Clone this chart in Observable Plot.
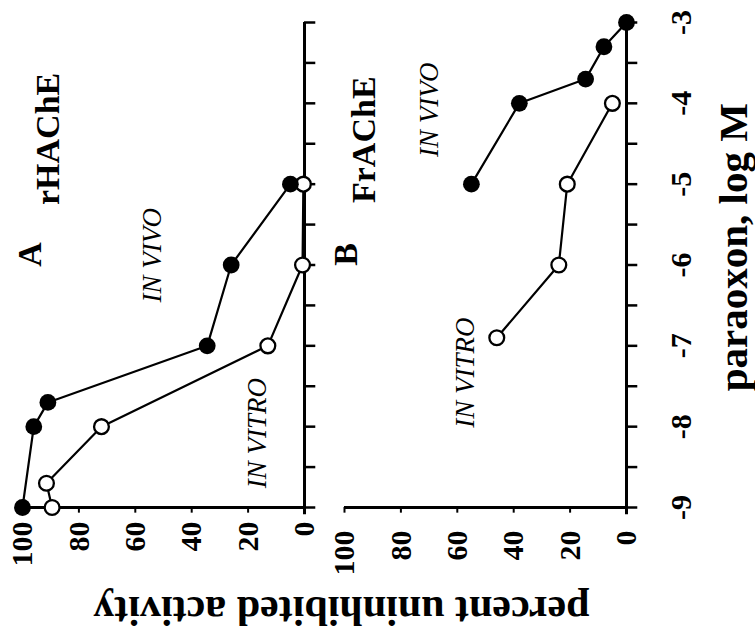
<!DOCTYPE html>
<html>
<head>
<meta charset="utf-8">
<script src="https://cdn.jsdelivr.net/npm/d3@7"></script>
<script src="https://cdn.jsdelivr.net/npm/@observablehq/plot@0.6"></script>
<style>
  html, body { margin: 0; padding: 0; background: #fff; }
  svg { display: block; }
</style>
</head>
<body>
<div id="chart"></div>
<script>
// ---- data ----
const panels = ["A", "B"];
const enzymes = ["rHAChE", "FrAChE"];
const conditionLabels = ["IN VIVO", "IN VITRO", "IN VIVO", "IN VITRO"];
const conditionPanels = ["A", "A", "B", "B"];
const logMajorTicks = [-9, -8, -7, -6, -5, -4, -3];
const logMinorTicks = [-9, -8.5, -8, -7.5, -7, -6.5, -6, -5.5, -5, -4.5, -4, -3.5, -3];
const pctTicks = [100, 80, 60, 40, 20, 0];
const xTitle = "paraoxon, log M";
const yTitle = "percent uninhibited activity";

// Panel A (rHAChE)
const aVivoLog = [-9, -8, -7.7, -7, -6, -5];
const aVivoPct = [100, 96, 91, 34.5, 26, 5];
const aVitroLog = [-9, -8.7, -8, -7, -6, -5];
const aVitroPct = [89.5, 91.5, 72, 13, 0.7, 0.4];
// Panel B (FrAChE)
const bVivoLog = [-5, -4, -3.7, -3.3, -3];
const bVivoPct = [55, 38, 14.5, 8, 0];
const bVitroLog = [-6.9, -6, -5, -4];
const bVitroPct = [46, 24, 21, 5];

// ---- table ----
const rows = [];
function addSeries(panel, cond, logs, pcts) {
  logs.forEach((l, i) => rows.push({panel, cond, log: l, pct: pcts[i]}));
}
addSeries("A", "vivo", aVivoLog, aVivoPct);
addSeries("A", "vitro", aVitroLog, aVitroPct);
addSeries("B", "vivo", bVivoLog, bVivoPct);
addSeries("B", "vitro", bVitroLog, bVitroPct);

const serif = "'Liberation Serif', 'Times New Roman', Times, serif";

const chart = Plot.plot({
  width: 755,
  height: 639,
  marginTop: 22,
  marginBottom: 132,
  marginLeft: 22,
  marginRight: 129,
  x: {domain: [100, 0], axis: null},
  y: {domain: [-9, -3], axis: null},
  fx: {domain: panels, axis: null, paddingInner: 0.1242, paddingOuter: 0, round: false},
  style: {fontFamily: serif, background: "white", color: "black", overflow: "visible"},
  marks: [
    // percent axis line + ticks
    Plot.ruleY([-9], {x1: 100, x2: 0, stroke: "black", strokeWidth: 3}),
    Plot.ruleX([100, 80, 60, 40, 20], {y1: -9, y2: -9.07, stroke: "black", strokeWidth: 2}),
    // log axis line + ticks (on the right of each panel)
    Plot.ruleX([0], {y1: -9.09, y2: -3, stroke: "black", strokeWidth: 3}),
    Plot.ruleY(logMinorTicks, {x1: 0, x2: -4, stroke: "black", strokeWidth: 2.5}),
    // data lines
    Plot.line(rows, {fx: "panel", x: "pct", y: "log", z: d => d.panel + d.cond, stroke: "black", strokeWidth: 2.2}),
    // data points
    Plot.dot(rows.filter(d => d.cond === "vitro"), {fx: "panel", x: "pct", y: "log", r: 7.4, fill: "white", stroke: "black", strokeWidth: 2.3}),
    Plot.dot(rows.filter(d => d.cond === "vivo"), {fx: "panel", x: "pct", y: "log", r: 8.4, fill: "black", stroke: "none"}),
    // percent tick labels
    Plot.text(pctTicks, {fx: () => "A", x: d => d, y: -9, text: d => String(d), rotate: -90, textAnchor: "end", dy: 14, fontSize: 30, fontWeight: "bold", fill: "black"}),
    Plot.text(pctTicks, {fx: () => "B", x: d => d, y: -9, text: d => String(d), rotate: -90, textAnchor: "end", dy: 23, fontSize: 30, fontWeight: "bold", fill: "black"}),
    // log tick labels (right of panel B)
    Plot.text(logMajorTicks, {fx: () => "B", x: -19.3, y: d => d, text: d => String(d), rotate: -90, fontSize: 30, fontWeight: "bold", fill: "black"}),
    // axis titles
    Plot.text([xTitle], {fx: () => "B", x: -38, y: -5.78, text: d => d, rotate: -90, fontSize: 41, fontWeight: "bold", fill: "black"}),
    Plot.text([yTitle], {fx: () => "A", x: -13.1, y: -10.27, text: d => d, rotate: 180, fontSize: 42, fontWeight: "bold", fill: "black"}),
    // panel letters and enzyme names
    Plot.text(panels, {fx: d => d, x: [97.2, 99.6], y: [-5.87, -5.87], text: d => d, rotate: -90, fontSize: 34, fontWeight: "bold", fill: "black"}),
    Plot.text(enzymes, {fx: (d, i) => panels[i], x: [91, 92.9], y: [-4.44, -4.45], text: d => d, rotate: -90, fontSize: 34, fontWeight: "bold", fill: "black"}),
    // condition labels
    Plot.text(conditionLabels, {fx: (d, i) => conditionPanels[i], x: [53.9, 16.7, 69.9, 57.1], y: [-5.88, -8.08, -4.08, -7.33], text: d => d, rotate: -90, fontSize: 27, fontStyle: "italic", fill: "black"})
  ]
});

document.getElementById("chart").appendChild(chart);
</script>
</body>
</html>
